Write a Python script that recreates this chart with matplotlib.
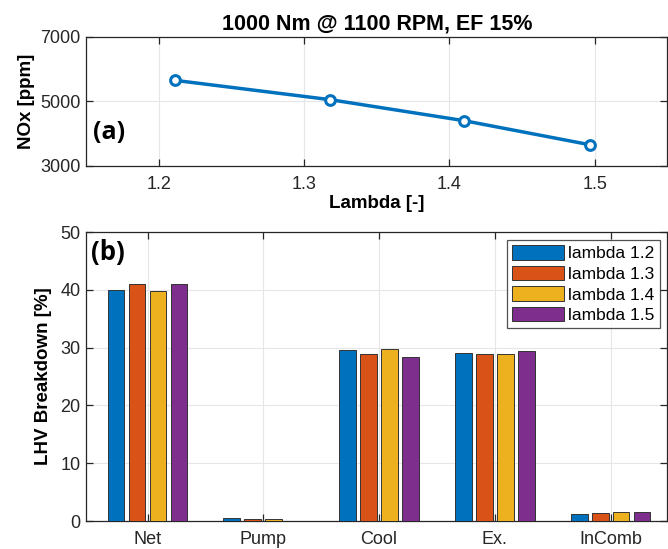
import matplotlib
matplotlib.use("Agg")
import matplotlib.pyplot as plt
import numpy as np

# panel (a) data
lam = [1.211, 1.318, 1.410, 1.497]
nox = [5650, 5050, 4400, 3650]

# panel (b) data
cats = ["Net", "Pump", "Cool", "Ex.", "InComb"]
series_labels = ["lambda 1.2", "lambda 1.3", "lambda 1.4", "lambda 1.5"]
lam12 = [40.05, 0.58, 29.6, 29.05, 1.2]
lam13 = [41.0, 0.40, 28.9, 28.9, 1.4]
lam14 = [39.9, 0.29, 29.85, 29.0, 1.5]
lam15 = [41.1, 0.06, 28.4, 29.35, 1.6]

colors = ["#0072BD", "#D95319", "#EDB120", "#7E2F8E"]

plt.rcParams['font.family'] = ['Liberation Sans', 'DejaVu Sans']

fig = plt.figure(figsize=(6.68, 5.49), dpi=100)
ax1 = fig.add_axes([0.129, 0.698, 0.870, 0.235])
ax2 = fig.add_axes([0.129, 0.051, 0.870, 0.526])

def matlab_style(ax):
    for s in ax.spines.values():
        s.set_color("#262626")
        s.set_linewidth(0.9)
    ax.tick_params(direction="in", top=True, right=True, length=5,
                   labelsize=13, colors="#262626", width=0.9)
    ax.tick_params(axis="x", pad=7)
    ax.tick_params(axis="y", pad=4)
    ax.grid(True, color="#e6e6e6", linewidth=0.8)
    ax.set_axisbelow(True)

# top panel
ax1.plot(lam, nox, color=colors[0], lw=2.5, marker="o", ms=7,
         mfc="white", mew=2.2)
ax1.set_xlim(1.15, 1.55)
ax1.set_ylim(3000, 7000)
ax1.set_xticks([1.2, 1.3, 1.4, 1.5])
ax1.set_yticks([3000, 5000, 7000])
matlab_style(ax1)
ax1.set_xlabel("Lambda [-]", fontsize=13.5, fontweight="bold", labelpad=2)
ax1.set_ylabel("NOx [ppm]", fontsize=13.5, fontweight="bold", labelpad=4)
ax1.set_title("1000 Nm @ 1100 RPM, EF 15%", fontsize=15.5, fontweight="bold", pad=5)
ax1.text(0.012, 0.26, "(a)", transform=ax1.transAxes, fontsize=18,
         fontweight="bold", family="Open Sans", va="center", ha="left")

# bottom panel
x = np.arange(1, len(cats) + 1)
pitch = 0.181
width = 0.145
for i, (vals, lab) in enumerate(zip([lam12, lam13, lam14, lam15], series_labels)):
    ax2.bar(x + (i - 1.5) * pitch, vals, width=width, color=colors[i],
            edgecolor="#333333", linewidth=0.7, label=lab, zorder=3)
ax2.set_xlim(0.47, 5.49)
ax2.set_ylim(0, 50)
ax2.set_xticks(x)
ax2.set_xticklabels(cats)
ax2.set_yticks([0, 10, 20, 30, 40, 50])
matlab_style(ax2)
ax2.set_ylabel("LHV Breakdown [%]", fontsize=13.5, fontweight="bold", labelpad=6)
ax2.text(0.008, 0.975, "(b)", transform=ax2.transAxes, fontsize=18.5,
         fontweight="bold", family="Open Sans", va="top", ha="left")
leg = ax2.legend(loc="upper right", fontsize=12.5, frameon=True, fancybox=False,
                 handlelength=3.0, handleheight=0.9, handletextpad=0.2,
                 labelspacing=0.25, borderpad=0.3, borderaxespad=0.45)
leg.get_frame().set_edgecolor("#262626")
leg.get_frame().set_linewidth(0.9)

fig.savefig("out.png", dpi=100)
